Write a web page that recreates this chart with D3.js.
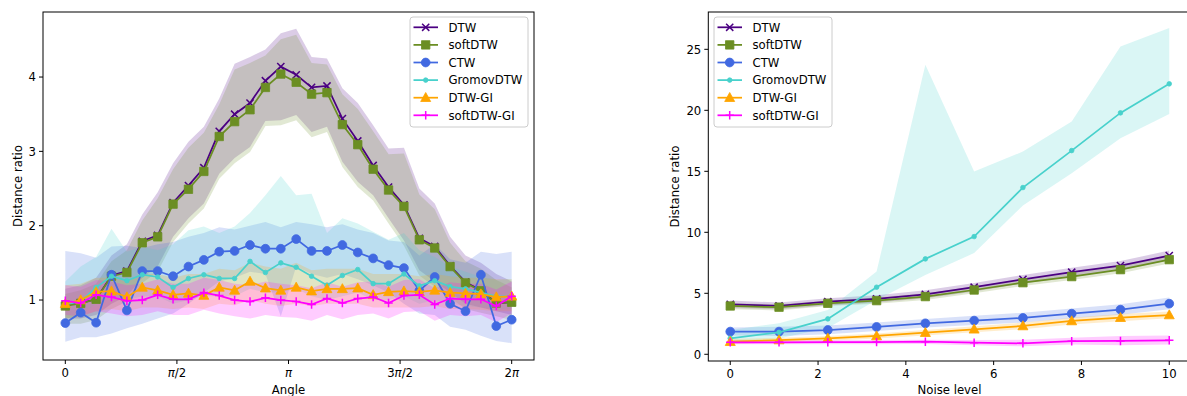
<!DOCTYPE html>
<html>
<head>
<meta charset="utf-8">
<script src="https://cdn.jsdelivr.net/npm/d3@7"></script>
<style>
  body { margin: 0; background: #fff; }
  text { font-family: "DejaVu Sans", sans-serif; font-size: 11.7px; fill: #000; }
</style>
</head>
<body>
<div id="chart"></div>
<script>
// methods, colours, markers
const methods = ['DTW', 'softDTW', 'CTW', 'GromovDTW', 'DTW-GI', 'softDTW-GI'];
const colors = ['#4b0082', '#6b8e23', '#4169e1', '#48d1cc', '#ffa500', '#ff00ff'];
const markers = ['x', 's', 'o', '.', '^', '+'];

// left panel: angle grid (30 angles, 0..2pi)
const angles = d3.range(30).map(i => i * 2 * Math.PI / 29);
const angleTicks = [0, Math.PI / 2, Math.PI, 3 * Math.PI / 2, 2 * Math.PI];
const angleTickLabels = [['0'], ['π', '/2'], ['π'], ['3', 'π', '/2'], ['2', 'π']];
const ratioTicksLeft = [1, 2, 3, 4];

const dtwAngle = [0.93, 0.96, 1.01, 1.33, 1.39, 1.79, 1.87, 2.31, 2.54, 2.78, 3.27, 3.50, 3.65, 3.95, 4.14, 4.03, 3.86, 3.88, 3.44, 3.14, 2.81, 2.52, 2.28, 1.83, 1.72, 1.46, 1.24, 1.13, 0.96, 0.97];
const dtwAngleUp = [1.15, 1.2, 1.3, 1.6, 1.75, 2.15, 2.45, 2.84, 3.13, 3.33, 3.71, 4.18, 4.27, 4.37, 4.59, 4.65, 4.27, 4.25, 3.85, 3.65, 3.35, 3.04, 3.05, 2.5, 2.3, 1.85, 1.6, 1.5, 1.35, 1.25];
const dtwAngleLo = [0.75, 0.75, 0.8, 0.95, 1.05, 1.3, 1.45, 1.85, 2.1, 2.3, 2.7, 2.91, 3.06, 3.41, 3.42, 3.49, 3.26, 3.33, 2.86, 2.59, 2.41, 2.1, 1.8, 1.4, 1.25, 1.1, 0.95, 0.9, 0.85, 0.8];

const softAngle = [0.92, 0.955, 1.01, 1.32, 1.37, 1.77, 1.85, 2.29, 2.49, 2.73, 3.20, 3.40, 3.56, 3.86, 4.04, 3.93, 3.77, 3.79, 3.36, 3.09, 2.76, 2.48, 2.26, 1.81, 1.70, 1.45, 1.23, 1.125, 0.96, 0.97];
const softAngleUp = [1.08, 1.13, 1.22, 1.52, 1.67, 2.07, 2.37, 2.76, 3.05, 3.25, 3.63, 4.1, 4.19, 4.29, 4.51, 4.57, 4.19, 4.17, 3.77, 3.57, 3.27, 2.96, 2.97, 2.42, 2.22, 1.77, 1.52, 1.42, 1.27, 1.17];
const softAngleLo = [0.68, 0.68, 0.73, 0.88, 0.98, 1.23, 1.38, 1.78, 2.03, 2.23, 2.63, 2.84, 2.99, 3.34, 3.35, 3.42, 3.19, 3.26, 2.79, 2.52, 2.34, 2.03, 1.73, 1.33, 1.18, 1.03, 0.88, 0.83, 0.78, 0.73];

const ctwAngle = [0.69, 0.83, 0.695, 1.34, 0.86, 1.39, 1.39, 1.32, 1.45, 1.54, 1.65, 1.66, 1.74, 1.69, 1.69, 1.82, 1.66, 1.66, 1.74, 1.64, 1.56, 1.47, 1.43, 1.125, 1.31, 0.95, 0.85, 1.34, 0.65, 0.735];
const ctwAngleUp = [1.66, 1.63, 1.57, 1.72, 1.73, 1.70, 1.75, 1.78, 1.85, 1.9, 1.98, 1.95, 2.0, 2.05, 1.98, 2.05, 2.02, 1.98, 2.02, 1.95, 1.9, 1.8, 1.78, 1.6, 1.75, 1.55, 1.5, 1.65, 1.62, 1.65];
const ctwAngleLo = [0.44, 0.5, 0.5, 0.55, 0.62, 0.68, 0.75, 0.82, 0.95, 1.1, 1.25, 1.3, 1.38, 1.35, 0.78, 1.45, 1.35, 1.3, 1.35, 1.28, 1.2, 1.1, 0.95, 0.82, 0.8, 0.64, 0.6, 0.52, 0.45, 0.42];

const gromovAngle = [0.94, 0.98, 1.17, 1.32, 1.26, 1.34, 1.31, 1.17, 1.29, 1.34, 1.29, 1.29, 1.52, 1.37, 1.50, 1.44, 1.32, 1.20, 1.33, 1.41, 1.22, 1.22, 1.35, 1.19, 1.26, 1.18, 1.15, 1.10, 1.05, 1.05];
const gromovAngleUp = [1.25, 1.45, 1.58, 1.96, 1.65, 1.72, 1.67, 1.75, 1.94, 1.99, 1.90, 1.99, 2.17, 2.41, 2.67, 2.41, 2.43, 1.90, 2.10, 2.03, 1.92, 1.81, 1.90, 1.67, 1.58, 1.45, 1.38, 1.31, 1.27, 1.28];
const gromovAngleLo = [0.75, 0.8, 0.95, 1.05, 1.0, 1.05, 1.05, 0.95, 1.0, 1.05, 1.05, 1.05, 1.15, 1.1, 1.1, 1.15, 1.05, 1.0, 1.05, 1.1, 1.0, 1.0, 1.05, 0.95, 1.0, 0.95, 0.92, 0.9, 0.88, 0.88];

const dtwgiAngle = [0.95, 1.0, 1.11, 1.12, 1.04, 1.17, 1.13, 1.07, 1.09, 1.06, 1.17, 1.13, 1.25, 1.16, 1.13, 1.17, 1.12, 1.15, 1.15, 1.16, 1.07, 1.11, 1.12, 1.11, 1.13, 1.10, 1.09, 1.08, 1.04, 1.05];
const dtwgiAngleUp = [1.2, 1.22, 1.3, 1.3, 1.25, 1.35, 1.35, 1.3, 1.35, 1.35, 1.42, 1.4, 1.5, 1.45, 1.42, 1.5, 1.4, 1.42, 1.42, 1.42, 1.35, 1.35, 1.35, 1.32, 1.35, 1.32, 1.3, 1.3, 1.28, 1.28];
const dtwgiAngleLo = [0.75, 0.78, 0.85, 0.88, 0.85, 0.9, 0.9, 0.88, 0.9, 0.88, 0.95, 0.93, 1.0, 0.95, 0.92, 0.95, 0.92, 0.95, 0.95, 0.95, 0.9, 0.9, 0.9, 0.9, 0.92, 0.88, 0.88, 0.87, 0.85, 0.85];

const softgiAngle = [0.99, 0.96, 1.07, 1.04, 0.99, 1.0, 1.07, 1.01, 1.01, 1.10, 1.06, 1.0, 0.98, 1.03, 1.0, 0.98, 0.94, 1.02, 0.96, 1.02, 1.04, 0.96, 1.06, 1.07, 0.94, 1.02, 1.01, 1.01, 0.92, 1.05];
const softgiAngleUp = [1.2, 1.18, 1.27, 1.25, 1.2, 1.22, 1.28, 1.22, 1.22, 1.3, 1.27, 1.22, 1.2, 1.25, 1.22, 1.2, 1.16, 1.24, 1.18, 1.24, 1.25, 1.18, 1.27, 1.28, 1.16, 1.24, 1.22, 1.22, 1.14, 1.25];
const softgiAngleLo = [0.8, 0.78, 0.85, 0.82, 0.78, 0.8, 0.85, 0.8, 0.8, 0.87, 0.82, 0.78, 0.75, 0.8, 0.77, 0.76, 0.72, 0.8, 0.74, 0.8, 0.82, 0.75, 0.84, 0.85, 0.72, 0.8, 0.78, 0.8, 0.7, 0.82];

// right panel: noise grid (10 levels, 0..10)
const noise = d3.range(10).map(i => i * 10 / 9);
const noiseTicks = [0, 2, 4, 6, 8, 10];
const ratioTicksRight = [0, 5, 10, 15, 20, 25];

const dtwNoise = [4.10, 3.96, 4.31, 4.54, 4.92, 5.50, 6.15, 6.73, 7.27, 8.09];
const dtwNoiseUp = [4.4, 4.25, 4.6, 4.85, 5.25, 5.85, 6.5, 7.1, 7.65, 8.5];
const dtwNoiseLo = [3.8, 3.7, 4.0, 4.25, 4.6, 5.15, 5.8, 6.35, 6.9, 7.7];

const softNoise = [3.96, 3.86, 4.18, 4.40, 4.73, 5.27, 5.87, 6.37, 6.94, 7.76];
const softNoiseUp = [4.2, 4.1, 4.4, 4.65, 5.0, 5.55, 6.15, 6.65, 7.25, 8.05];
const softNoiseLo = [3.7, 3.6, 3.95, 4.15, 4.45, 5.0, 5.6, 6.1, 6.65, 7.45];

const ctwNoise = [1.86, 1.86, 1.99, 2.24, 2.54, 2.76, 2.98, 3.33, 3.66, 4.15];
const ctwNoiseUp = [2.2, 2.25, 2.35, 2.6, 2.9, 3.15, 3.4, 3.75, 4.1, 4.65];
const ctwNoiseLo = [1.55, 1.5, 1.65, 1.9, 2.2, 2.4, 2.6, 2.95, 3.25, 3.7];

const gromovNoise = [1.31, 1.80, 2.90, 5.50, 7.82, 9.65, 13.67, 16.70, 19.79, 22.17];
const gromovNoiseUp = [2.0, 2.55, 3.63, 6.78, 23.73, 14.98, 16.62, 19.08, 25.23, 26.74];
const gromovNoiseLo = [1.0, 1.3, 2.16, 4.45, 6.5, 8.3, 12.2, 14.85, 17.72, 19.69];

const dtwgiNoise = [1.03, 1.17, 1.31, 1.50, 1.77, 2.05, 2.32, 2.73, 3.00, 3.22];
const dtwgiNoiseUp = [1.25, 1.35, 1.5, 1.7, 2.0, 2.3, 2.6, 3.0, 3.3, 3.5];
const dtwgiNoiseLo = [0.85, 1.0, 1.12, 1.3, 1.55, 1.8, 2.05, 2.45, 2.7, 2.95];

const softgiNoise = [0.98, 0.98, 0.99, 1.0, 1.03, 0.95, 0.9, 1.07, 1.09, 1.15];
const softgiNoiseUp = [1.15, 1.15, 1.15, 1.18, 1.2, 1.18, 1.2, 1.35, 1.5, 1.55];
const softgiNoiseLo = [0.82, 0.82, 0.83, 0.83, 0.85, 0.75, 0.65, 0.8, 0.75, 0.8];

const W = 1187, H = 396;
const svg = d3.select('#chart').append('svg')
  .attr('width', W).attr('height', H);

function markerPath(m) {
  switch (m) {
    case 'x': return 'M-3.6,-3.6L3.6,3.6M-3.6,3.6L3.6,-3.6';
    case '+': return 'M-4.2,0L4.2,0M0,-4.2L0,4.2';
    case 's': return 'M-4.2,-4.2H4.2V4.2H-4.2Z';
    case '^': return 'M0,-5.2L5,3.8L-5,3.8Z';
    case 'o': return d3.symbol(d3.symbolCircle, Math.PI * 4.4 * 4.4)();
    case '.': return d3.symbol(d3.symbolCircle, Math.PI * 2.3 * 2.3)();
  }
}

function drawMarker(g, m, color) {
  const open = m === 'x' || m === '+';
  g.append('path')
    .attr('d', markerPath(m))
    .attr('fill', open ? 'none' : color)
    .attr('stroke', color)
    .attr('stroke-width', open ? 1.5 : 0.8);
}

function panel(opts) {
  const x = d3.scaleLinear().domain(opts.xDomain).range(opts.xRange);
  const y = d3.scaleLinear().domain(opts.yDomain).range(opts.yRange);
  const g = svg.append('g');

  // bands first (matplotlib puts collections under lines)
  opts.series.forEach((s, k) => {
    const area = d3.area()
      .x((d, i) => x(opts.xs[i]))
      .y0((d, i) => y(s.lo[i]))
      .y1((d, i) => y(s.up[i]));
    g.append('path')
      .attr('d', area(s.mean))
      .attr('fill', colors[k])
      .attr('fill-opacity', 0.2);
  });

  opts.series.forEach((s, k) => {
    const line = d3.line().x((d, i) => x(opts.xs[i])).y(d => y(d));
    g.append('path')
      .attr('d', line(s.mean))
      .attr('fill', 'none')
      .attr('stroke', colors[k])
      .attr('stroke-width', 1.75);
    s.mean.forEach((v, i) => {
      const mg = g.append('g').attr('transform', `translate(${x(opts.xs[i])},${y(v)})`);
      drawMarker(mg, markers[k], colors[k]);
    });
  });

  // spines
  const [x0, x1] = opts.xRange, [y0, y1] = opts.yRange;
  g.append('rect')
    .attr('x', x0).attr('y', y1)
    .attr('width', x1 - x0).attr('height', y0 - y1)
    .attr('fill', 'none').attr('stroke', '#000').attr('stroke-width', 1);

  // x ticks
  opts.xTicks.forEach((t, i) => {
    const px = x(t);
    g.append('line').attr('x1', px).attr('x2', px).attr('y1', y0).attr('y2', y0 + 4)
      .attr('stroke', '#000').attr('stroke-width', 1);
    const txt = g.append('text').attr('x', px).attr('y', y0 + 17).attr('text-anchor', 'middle');
    opts.xTickLabels[i].forEach(part => {
      txt.append('tspan').attr('font-style', part === 'π' ? 'italic' : null).text(part);
    });
  });

  // y ticks
  opts.yTicks.forEach(t => {
    const py = y(t);
    g.append('line').attr('x1', x0 - 4).attr('x2', x0).attr('y1', py).attr('y2', py)
      .attr('stroke', '#000').attr('stroke-width', 1);
    g.append('text').attr('x', x0 - 7).attr('y', py).attr('dy', '0.36em')
      .attr('text-anchor', 'end').text(t);
  });

  g.append('text').attr('x', opts.xLabelX).attr('y', 394)
    .attr('text-anchor', 'middle').text(opts.xLabel);
  g.append('text')
    .attr('transform', `translate(${opts.yLabelX},${(y0 + y1) / 2}) rotate(-90)`)
    .attr('text-anchor', 'middle').text('Distance ratio');

  // legend
  const L = opts.legend;
  const lg = g.append('g');
  lg.append('rect').attr('x', L.x).attr('y', 17).attr('width', 118).attr('height', 110)
    .attr('rx', 3).attr('fill', '#fff').attr('fill-opacity', 0.8)
    .attr('stroke', '#cccccc').attr('stroke-width', 1);
  methods.forEach((name, k) => {
    const ry = 27.3 + k * 17.6;
    lg.append('line').attr('x1', L.x + 3.5).attr('x2', L.x + 28).attr('y1', ry).attr('y2', ry)
      .attr('stroke', colors[k]).attr('stroke-width', 1.75);
    drawMarker(lg.append('g').attr('transform', `translate(${L.x + 15.7},${ry})`), markers[k], colors[k]);
    lg.append('text').attr('x', L.x + 38.5).attr('y', ry).attr('dy', '0.36em').text(name);
  });
}

panel({
  xs: angles,
  xDomain: [-0.05 * 2 * Math.PI, 1.05 * 2 * Math.PI], xRange: [43, 534],
  yDomain: [0.193, 4.875], yRange: [360, 12],
  xTicks: angleTicks, xTickLabels: angleTickLabels,
  yTicks: ratioTicksLeft,
  xLabel: 'Angle', xLabelX: 288.5, yLabelX: 22,
  legend: { x: 410 },
  series: [
    { mean: dtwAngle, up: dtwAngleUp, lo: dtwAngleLo },
    { mean: softAngle, up: softAngleUp, lo: softAngleLo },
    { mean: ctwAngle, up: ctwAngleUp, lo: ctwAngleLo },
    { mean: gromovAngle, up: gromovAngleUp, lo: gromovAngleLo },
    { mean: dtwgiAngle, up: dtwgiAngleUp, lo: dtwgiAngleLo },
    { mean: softgiAngle, up: softgiAngleUp, lo: softgiAngleLo }
  ]
});

panel({
  xs: noise,
  xDomain: [-0.5, 10.5], xRange: [708.3, 1191.2],
  yDomain: [-0.55, 28.06], yRange: [361, 12],
  xTicks: noiseTicks, xTickLabels: noiseTicks.map(t => [String(t)]),
  yTicks: ratioTicksRight,
  xLabel: 'Noise level', xLabelX: 949.5, yLabelX: 678.5,
  legend: { x: 714 },
  series: [
    { mean: dtwNoise, up: dtwNoiseUp, lo: dtwNoiseLo },
    { mean: softNoise, up: softNoiseUp, lo: softNoiseLo },
    { mean: ctwNoise, up: ctwNoiseUp, lo: ctwNoiseLo },
    { mean: gromovNoise, up: gromovNoiseUp, lo: gromovNoiseLo },
    { mean: dtwgiNoise, up: dtwgiNoiseUp, lo: dtwgiNoiseLo },
    { mean: softgiNoise, up: softgiNoiseUp, lo: softgiNoiseLo }
  ]
});
</script>
</body>
</html>
